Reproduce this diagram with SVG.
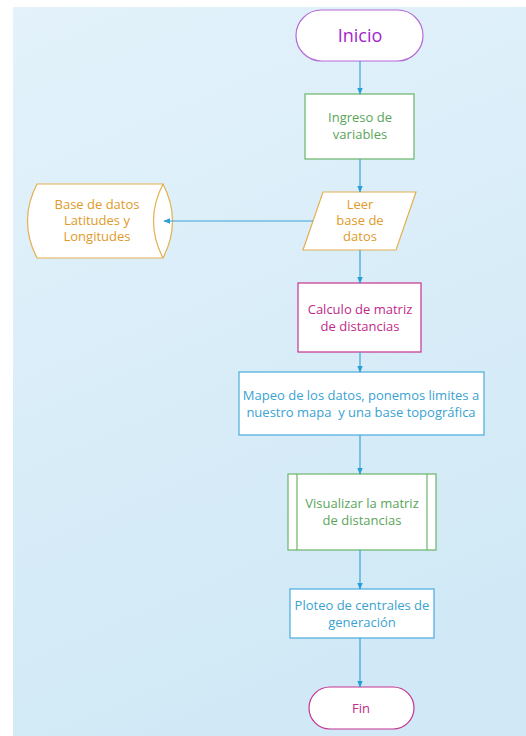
<svg xmlns="http://www.w3.org/2000/svg" width="526" height="736" viewBox="0 0 526 736">
<defs>
<linearGradient id="bg" x1="0" y1="0" x2="0.3" y2="1">
<stop offset="0" stop-color="#e3f2fb"/>
<stop offset="1" stop-color="#d1e9f6"/>
</linearGradient>
<marker id="arr" viewBox="0 0 10 10" refX="9" refY="5" markerWidth="7" markerHeight="7" markerUnits="userSpaceOnUse" orient="auto">
<path d="M0,1 L10,5 L0,9 z" fill="#2a9fd6"/>
</marker>
<style>
.t{font-family:"Open Sans","Noto Sans",sans-serif;font-size:13px;text-anchor:middle;white-space:pre}
.big{font-size:18px}
.n{fill:#ffffff;stroke-width:1.2}
.c{stroke:#3aa3d8;stroke-width:1.2;fill:none;marker-end:url(#arr)}
</style>
</defs>
<rect x="0" y="0" width="526" height="736" fill="#ffffff"/>
<rect x="13" y="7" width="513" height="729" fill="url(#bg)"/>
<g id="inicio">
<rect class="n" x="296" y="10" width="127" height="51" rx="25.5" stroke="#b569d6"/>
<text class="t big" x="360" y="42" fill="#a226c9">Inicio</text>
</g>
<g id="ingreso">
<rect class="n" x="305" y="94" width="109" height="65" stroke="#6ab56a"/>
<text class="t" x="360" y="122" fill="#5aa55a">Ingreso de</text>
<text class="t" x="360" y="139" fill="#5aa55a">variables</text>
</g>
<g id="leer">
<polygon class="n" points="323,192 416,192 396,250 303,250" stroke="#e3b050"/>
<text class="t" x="360" y="209" fill="#e09a2a">Leer</text>
<text class="t" x="360" y="225" fill="#e09a2a">base de</text>
<text class="t" x="360" y="241" fill="#e09a2a">datos</text>
</g>
<g id="basedatos">
<path class="n" d="M37,184 L163,184 Q182,221 163,258 L37,258 Q18,221 37,184 Z" stroke="#e3b050"/>
<path d="M163,184 Q144,221 163,258" fill="none" stroke="#e3b050" stroke-width="1.2"/>
<text class="t" x="97" y="209" fill="#e09a2a">Base de datos</text>
<text class="t" x="97" y="225" fill="#e09a2a">Latitudes y</text>
<text class="t" x="97" y="241" fill="#e09a2a">Longitudes</text>
</g>
<g id="calculo">
<rect class="n" x="298" y="283" width="123" height="69" stroke="#c6328f"/>
<text class="t" x="360" y="314" fill="#c02a88">Calculo de matriz</text>
<text class="t" x="360" y="331" fill="#c02a88">de distancias</text>
</g>
<g id="mapeo">
<rect class="n" x="239" y="372" width="245" height="63" stroke="#48acdc"/>
<text class="t" x="361" y="400" fill="#3aa2d2">Mapeo de los datos, ponemos limites a</text>
<text class="t" x="361" y="417" fill="#3aa2d2">nuestro mapa  y una base topográfica</text>
</g>
<g id="visualizar">
<rect class="n" x="288" y="474" width="148" height="76" stroke="#6ab56a"/>
<line x1="297" y1="474" x2="297" y2="550" stroke="#6ab56a" stroke-width="1.2"/>
<line x1="427" y1="474" x2="427" y2="550" stroke="#6ab56a" stroke-width="1.2"/>
<text class="t" x="362" y="508" fill="#5aa55a">Visualizar la matriz</text>
<text class="t" x="362" y="525" fill="#5aa55a">de distancias</text>
</g>
<g id="ploteo">
<rect class="n" x="290" y="589" width="144" height="49" stroke="#48acdc"/>
<text class="t" x="362" y="610" fill="#3aa2d2">Ploteo de centrales de</text>
<text class="t" x="362" y="627" fill="#3aa2d2">generación</text>
</g>
<g id="fin">
<rect class="n" x="309" y="687" width="105" height="42" rx="21" stroke="#c6328f"/>
<text class="t" x="361" y="713" fill="#c02a88">Fin</text>
</g>
<g id="connectors">
<line class="c" x1="360" y1="61" x2="360" y2="94"/>
<line class="c" x1="360" y1="159" x2="360" y2="192"/>
<line class="c" x1="313" y1="221" x2="164" y2="221"/>
<line class="c" x1="360" y1="250" x2="360" y2="283"/>
<line class="c" x1="360" y1="352" x2="360" y2="372"/>
<line class="c" x1="360" y1="435" x2="360" y2="474"/>
<line class="c" x1="360" y1="550" x2="360" y2="589"/>
<line class="c" x1="360" y1="638" x2="360" y2="687"/>
</g>
</svg>
